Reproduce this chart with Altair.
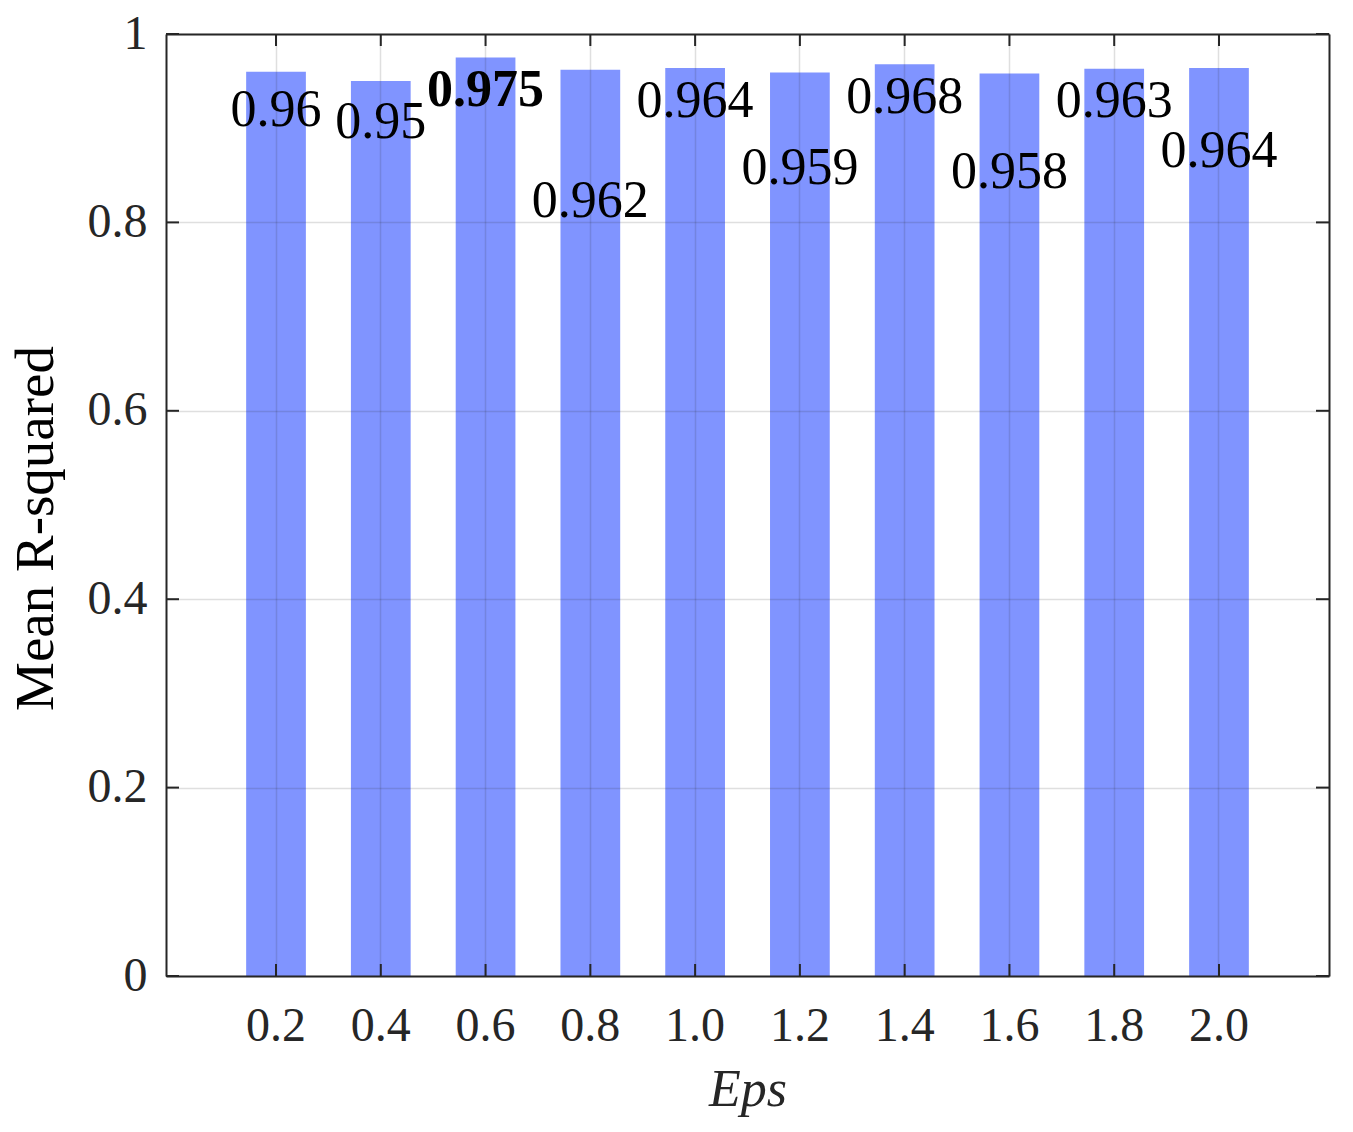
import altair as alt
import pandas as pd

# ---- data ----
eps_labels = ["0.2", "0.4", "0.6", "0.8", "1.0", "1.2", "1.4", "1.6", "1.8", "2.0"]
mean_r2 = [0.96, 0.95, 0.975, 0.962, 0.964, 0.959, 0.968, 0.958, 0.963, 0.964]
# vertical anchor (data units) of each value label, as placed in the original figure
label_y = [0.902, 0.890, 0.924, 0.806, 0.912, 0.841, 0.916, 0.836, 0.912, 0.859]
y_ticks = [0, 0.2, 0.4, 0.6, 0.8, 1.0]

df = pd.DataFrame({"eps": eps_labels, "r2": mean_r2, "ly": label_y})
df["best"] = df["r2"] == df["r2"].max()
ydf = pd.DataFrame({"v": y_ticks})

W, H = 1163, 942
FONT = "Liberation Serif"
AX = "#262626"

x_scale = alt.Scale(paddingInner=0.43, paddingOuter=0.765)
y_scale = alt.Scale(domain=[0, 1], nice=False, zero=True)

bottom_axis = alt.Axis(
    orient="bottom", title="Eps", titleFontStyle="italic", titleFont=FONT,
    titleFontSize=52, titleFontWeight="normal", titleColor=AX,
    titleBaseline="alphabetic", titleX=W / 2, titleY=129,
    labelFont=FONT, labelFontSize=48, labelColor=AX, labelAngle=0,
    labelBaseline="alphabetic", labelPadding=64,
    ticks=False, tickSize=0, domain=True, domainColor=AX, domainWidth=2,
    grid=True, gridColor=AX, gridOpacity=0.15, gridWidth=1.5, zindex=1,
)
left_axis = alt.Axis(
    orient="left", title="Mean R-squared", titleFont=FONT, titleFontSize=55,
    titleFontWeight="normal", titleColor="black", titleBaseline="alphabetic",
    titleAngle=-90, titleX=-114, titleY=494, titleAlign="center",
    values=y_ticks, format="~g",
    labelFont=FONT, labelFontSize=48, labelColor=AX, labelPadding=19,
    labelBaseline="middle",
    ticks=False, tickSize=0, domain=True, domainColor=AX, domainWidth=2,
    grid=True, gridColor=AX, gridOpacity=0.15, gridWidth=1.5, zindex=1,
)
top_axis = alt.Axis(orient="top", title=None, labels=False, ticks=False,
                    grid=False, domain=True, domainColor=AX, domainWidth=2, zindex=1)
right_axis = alt.Axis(orient="right", title=None, labels=False, ticks=False,
                      grid=False, domain=True, domainColor=AX, domainWidth=2, zindex=1)

bars = alt.Chart(df).mark_bar(color="#8094ff").encode(
    x=alt.X("eps:N", sort=None, scale=x_scale, axis=bottom_axis),
    y=alt.Y("r2:Q", scale=y_scale, axis=left_axis),
)

# inward ticks on all four sides
tick_left = alt.Chart(ydf).mark_rule(color=AX, strokeWidth=2).encode(
    y=alt.Y("v:Q", axis=None), x=alt.value(0), x2=alt.value(13))
tick_right = alt.Chart(ydf).mark_rule(color=AX, strokeWidth=2).encode(
    y=alt.Y("v:Q", axis=right_axis), x=alt.value(W - 13), x2=alt.value(W))
tick_bottom = alt.Chart(df).mark_rule(color=AX, strokeWidth=2).encode(
    x=alt.X("eps:N", sort=None, axis=None), y=alt.value(H - 12), y2=alt.value(H))
tick_top = alt.Chart(df).mark_rule(color=AX, strokeWidth=2).encode(
    x=alt.X("eps:N", sort=None, axis=top_axis), y=alt.value(0), y2=alt.value(12))

text_common = dict(font=FONT, fontSize=52, color="black", align="center",
                   baseline="alphabetic")
labels_normal = alt.Chart(df).transform_filter("!datum.best").mark_text(
    **text_common).encode(
    x=alt.X("eps:N", sort=None, axis=None),
    y=alt.Y("ly:Q", axis=None),
    text=alt.Text("r2:Q", format="~g"),
)
labels_best = alt.Chart(df).transform_filter("datum.best").mark_text(
    fontWeight="bold", **text_common).encode(
    x=alt.X("eps:N", sort=None, axis=None),
    y=alt.Y("ly:Q", axis=None),
    text=alt.Text("r2:Q", format="~g"),
)

chart = alt.layer(
    bars, tick_left, tick_right, tick_bottom, tick_top, labels_normal, labels_best
).resolve_axis(x="independent", y="independent").properties(
    width=W, height=H,
    autosize=alt.AutoSizeParams(type="none"),
    padding={"left": 158, "top": 26, "right": 10, "bottom": 145},
).configure_view(stroke=None).configure(background="white")

chart.save("out.html", embed_options={"renderer": "svg", "actions": False})
